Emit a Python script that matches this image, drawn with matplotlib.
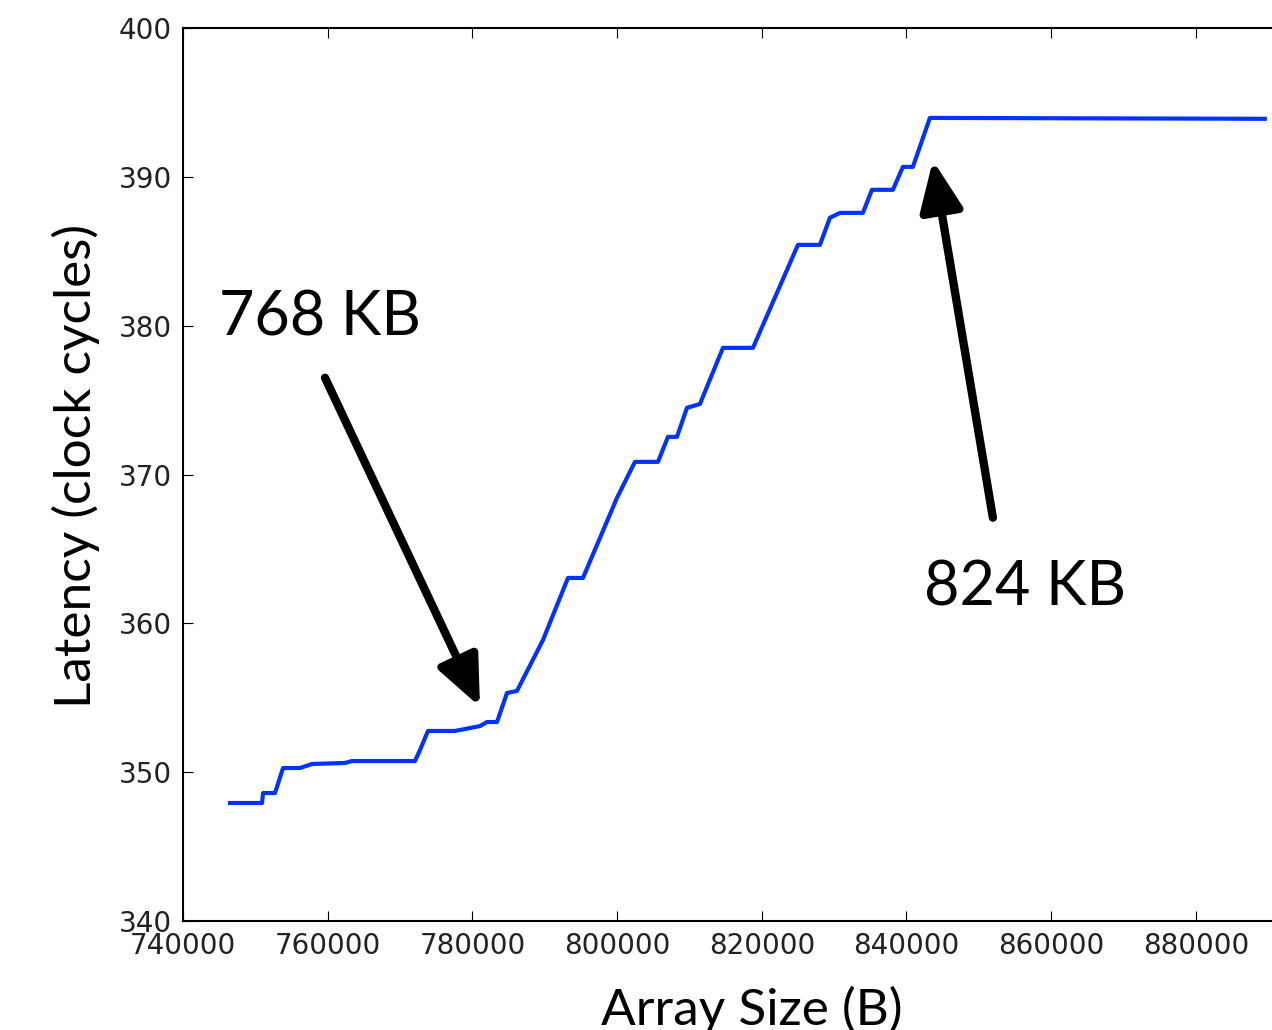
import matplotlib
matplotlib.use('Agg')
import matplotlib.pyplot as plt

# latency curve (array size in bytes, latency in cycles)
size = [746496, 750918, 751056, 752714, 753820, 756169, 757828, 762388, 763356,
        772062, 772753, 773859, 777590, 778972, 781045, 782013, 783395, 784777,
        786159, 789752, 793207, 795280, 799979, 802466, 805645, 807027, 808271,
        809653, 811449, 814628, 818774, 824993, 828033, 829415, 830797, 833976,
        835220, 838122, 839504, 840886, 843235, 889532]
latency = [347.93, 347.93, 348.60, 348.60, 350.28, 350.28, 350.55, 350.62, 350.75,
           350.75, 351.49, 352.77, 352.77, 352.90, 353.10, 353.37, 353.37, 355.32,
           355.46, 358.88, 363.05, 363.05, 368.43, 370.85, 370.85, 372.53, 372.53,
           374.48, 374.74, 378.51, 378.51, 385.43, 385.43, 387.25, 387.58, 387.58,
           389.13, 389.13, 390.67, 390.67, 393.96, 393.90]

xticks = [740000, 760000, 780000, 800000, 820000, 840000, 860000, 880000]
yticks = [340, 350, 360, 370, 380, 390, 400]

labels = ['768 KB', '824 KB']
label_xy = [(758930, 380.5), (856360, 362.4)]
arrow_tail = [(759624, 376.5), (851942, 367.1)]
arrow_tip = [(781045, 354.4), (843650, 391.1)]

fig = plt.figure(figsize=(12.72, 10.30), dpi=100)
# axes run past the right edge of the picture, as in the cropped original
ax = fig.add_axes([0.1439, 0.1058, 0.910, 0.867])

ax.plot(size, latency, color='#0033ff', lw=3)

ax.set_xlim(740000, 900000)
ax.set_ylim(340, 400)
ax.set_xticks(xticks)
ax.set_yticks(yticks)
ax.tick_params(direction='in', length=7, width=0.8, labelsize=20, labelcolor='#222222',
               top=True, right=True, pad=8)
for s in ax.spines.values():
    s.set_linewidth(1.5)

ax.set_xlabel('Array Size (B)', fontsize=37, family='Lato')
ax.xaxis.set_label_coords(0.4915, -0.072)
ax.set_ylabel('Latency (clock cycles)', fontsize=37, family='Lato')
ax.yaxis.set_label_coords(-0.072, 0.5095)

for lab, xy, tail, tip in zip(labels, label_xy, arrow_tail, arrow_tip):
    ax.text(xy[0], xy[1], lab, fontsize=44, family='Lato', ha='center', va='center')
    ax.annotate('', xy=tip, xytext=tail,
                arrowprops=dict(arrowstyle='-|>,head_length=1.5,head_width=0.65',
                                mutation_scale=20, lw=6, color='black',
                                shrinkA=0, shrinkB=0))

fig.savefig('out.png', dpi=100)
